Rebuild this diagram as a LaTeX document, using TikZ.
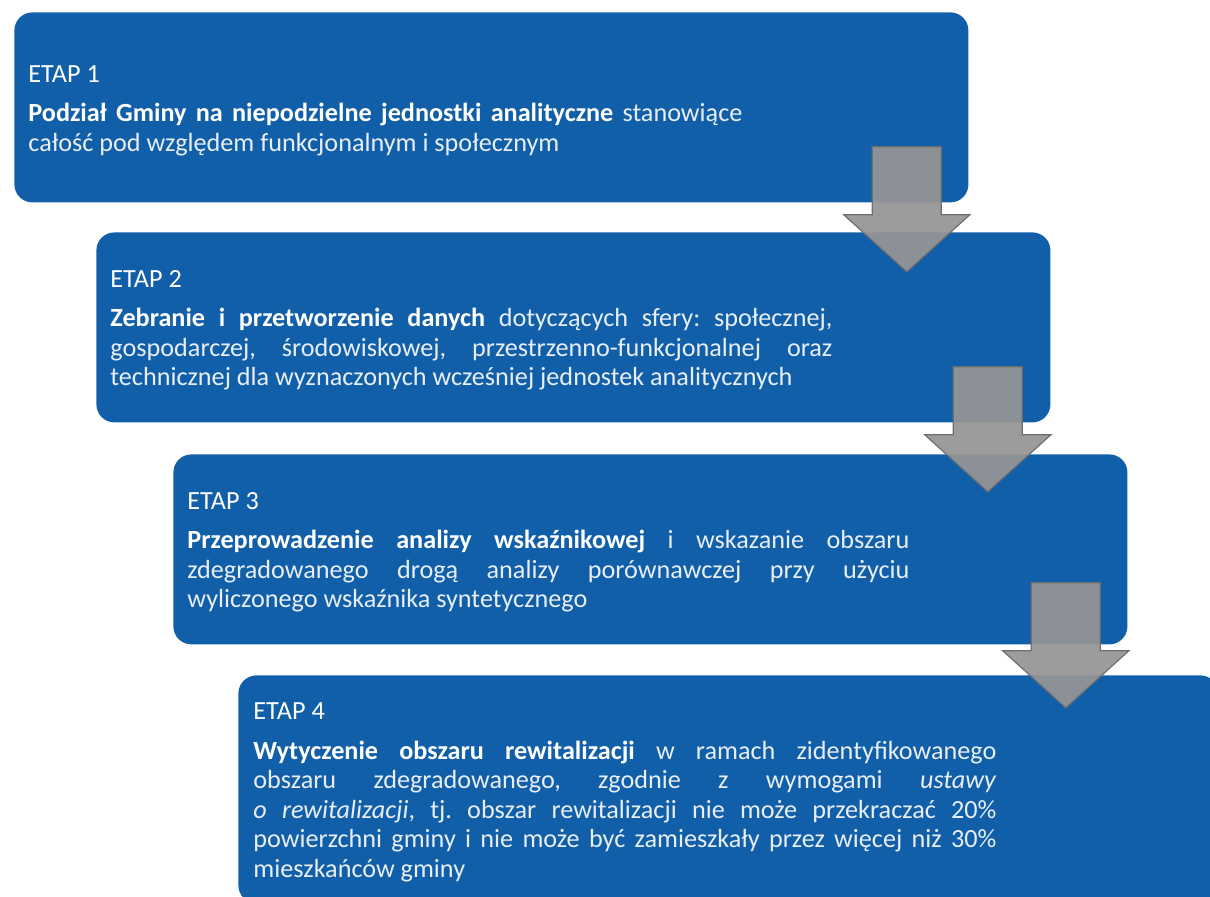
\documentclass[tikz,border=0pt]{standalone}
\usepackage{fontspec}
\setmainfont{Carlito}
\usetikzlibrary{positioning}
\definecolor{stageblue}{RGB}{18,95,169}
\definecolor{arrowgray}{RGB}{149,149,149}
\definecolor{arrowedge}{RGB}{110,110,110}
\definecolor{bodytext}{RGB}{232,238,246}
\tikzset{
  stagebox/.style = {
    rectangle, rounded corners=9pt, fill=stageblue, draw=none,
    minimum width=477pt, minimum height=95pt, anchor=north west, inner sep=0pt
  },
  stagetext/.style = {
    inner sep=0pt, align=justify, text=bodytext, yshift=-1.5pt,
    font=\fontsize{13.1}{14.8}\selectfont
  },
  pics/downarrow/.style = {
    code = {
      \draw[fill=arrowgray, fill opacity=0.93, draw=arrowedge, line width=0.6pt]
        (-34.5,0) -- (34.5,0) -- (34.5,68) -- (63,68) -- (0,125)
        -- (-63,68) -- (-34.5,68) -- cycle;
    }
  }
}
\newcommand{\etap}[1]{{\color{white}ETAP #1}\par\vspace{4.9pt}}
\newcommand{\lead}[1]{\textbf{\color{white}#1}}
\hyphenpenalty=10000
\exhyphenpenalty=10000
\frenchspacing

\begin{document}
\begin{tikzpicture}[x=0.5pt, y=-0.5pt]
  \clip (0,0) rectangle (1210,896);
  \useasboundingbox (0,0) rectangle (1210,896);

  % Stage boxes
  \node[stagebox] (s1) at (14,12) {};
  \node[stagebox] (s2) at (96,232) {};
  \node[stagebox] (s3) at (173,454) {};
  \node[stagebox, minimum width=490pt, minimum height=114pt] (s4) at (238,675) {};

  % Stage 1
  \node[stagetext, text width=357pt, right=7pt of s1.west] (t1) {\etap{1}%
    \lead{Podział Gminy na niepodzielne jednostki analityczne} stanowiące\linebreak
    całość pod względem funkcjonalnym i społecznym};

  % Stage 2
  \node[stagetext, text width=361pt, right=7pt of s2.west] (t2) {\etap{2}%
    \lead{Zebranie i przetworzenie danych} dotyczących sfery: społecznej,\linebreak
    gospodarczej, środowiskowej, przestrzenno-funkcjonalnej oraz\linebreak
    technicznej dla wyznaczonych wcześniej jednostek analitycznych};

  % Stage 3
  \node[stagetext, text width=361pt, right=7pt of s3.west] (t3) {\etap{3}%
    \lead{Przeprowadzenie analizy wskaźnikowej} i wskazanie obszaru\linebreak
    zdegradowanego drogą analizy porównawczej przy użyciu\linebreak
    wyliczonego wskaźnika syntetycznego};

  % Stage 4
  \node[stagetext, text width=371.5pt, right=7.5pt of s4.west] (t4) {\etap{4}%
    \lead{Wytyczenie obszaru rewitalizacji} w ramach zidentyfikowanego\linebreak
    obszaru zdegradowanego, zgodnie z wymogami \textit{ustawy}\linebreak
    \textit{o rewitalizacji}, tj. obszar rewitalizacji nie może przekraczać 20\%\linebreak
    powierzchni gminy i nie może być zamieszkały przez więcej niż 30\%\linebreak
    mieszkańców gminy};

  % Arrows between stages
  \pic at ([shift={(-62,-56)}]s1.south east) {downarrow};
  \pic at ([shift={(-63,-56)}]s2.south east) {downarrow};
  \pic at ([shift={(-62,-62)}]s3.south east) {downarrow};

\end{tikzpicture}
\end{document}
